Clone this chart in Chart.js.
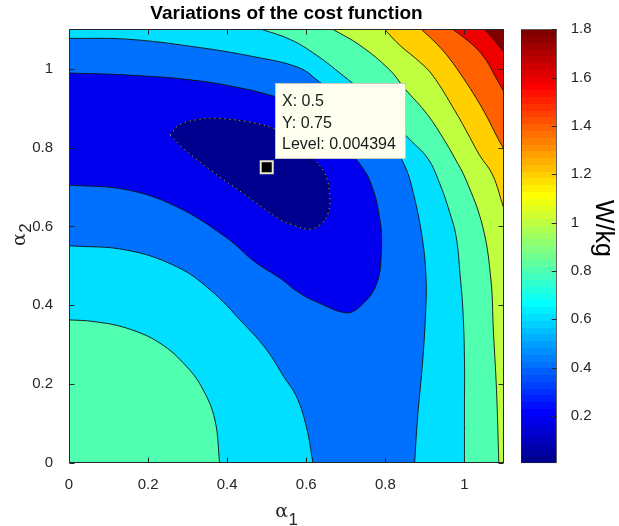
<!doctype html>
<html lang="en">
<head>
<meta charset="utf-8">
<title>Variations of the cost function</title>
<script src="https://cdn.jsdelivr.net/npm/chart.js@4.4.1/dist/chart.umd.min.js"></script>
<style>
  body { margin: 0; background: #fff; }
  #wrap { position: relative; width: 619px; height: 526px; }
  #main { position: absolute; left: 0; top: 0; }
  #cbar { position: absolute; left: 505px; top: 0; }
</style>
</head>
<body>
<div id="wrap">
  <canvas id="main" width="619" height="526"></canvas>
  <canvas id="cbar" width="114" height="526"></canvas>
</div>

<script>
// axis ticks
var xTicks = [0, 0.2, 0.4, 0.6, 0.8, 1];
var yTicks = [0, 0.2, 0.4, 0.6, 0.8, 1];
var cbTicks = [0.2, 0.4, 0.6, 0.8, 1, 1.2, 1.4, 1.6, 1.8];
var cMin = 0.004394, cMax = 1.8;
var title = 'Variations of the cost function';

// contour lines [alpha1, alpha2]
var c02 = [[0.255,0.832],[0.280,0.858],[0.331,0.872],[0.373,0.874],[0.448,0.866],[0.516,0.849],
  [0.571,0.819],[0.617,0.773],[0.646,0.736],[0.659,0.684],[0.655,0.633],[0.634,0.604],[0.609,0.593],
  [0.566,0.604],[0.533,0.618],[0.439,0.685],[0.356,0.744],[0.293,0.795],[0.255,0.832]];
var c04 = [[0,0.989],[0.146,0.984],[0.314,0.971],[0.440,0.950],[0.523,0.929],[0.583,0.912],[0.634,0.882],
  [0.684,0.832],[0.722,0.777],[0.760,0.718],[0.785,0.625],[0.790,0.540],[0.777,0.452],[0.735,0.396],
  [0.701,0.381],[0.634,0.405],[0.583,0.431],[0.533,0.469],[0.470,0.510],[0.396,0.573],[0.272,0.650],
  [0.146,0.693],[0,0.705]];
var c06a = [[0,1.077],[0.146,1.075],[0.314,1.056],[0.470,1.030],[0.583,1.002],[0.634,0.966],[0.697,0.921],
  [0.765,0.857],[0.823,0.794],[0.848,0.756],[0.869,0.692],[0.894,0.566],[0.903,0.464],[0.902,0.388],
  [0.895,0.267],[0.881,0.109],[0.874,0]];
var c06b = [[0,0.551],[0.146,0.540],[0.272,0.498],[0.356,0.440],[0.440,0.355],[0.499,0.288],[0.545,0.216],
  [0.575,0.169],[0.600,0.093],[0.617,0]];
var c08a = [[0.487,1.1],[0.56,1.074],[0.625,1.035],[0.69,0.985],[0.75,0.935],[0.805,0.88],[0.86,0.822],
  [0.907,0.773],[0.937,0.710],[0.962,0.638],[0.979,0.574],[0.989,0.477],[0.996,0.388],[1.0,0.266],
  [1.0,0.13],[1.0,0]];
var c08b = [[0,0.363],[0.061,0.359],[0.146,0.342],[0.230,0.304],[0.297,0.245],[0.339,0.186],[0.369,0.109],[0.381,0]];
var c10 = [[0.667,1.1],[0.735,1.060],[0.811,0.997],[0.848,0.951],[0.907,0.883],[0.949,0.819],[0.975,0.774],
  [1.004,0.718],[1.046,0.600],[1.067,0.464],[1.073,0.338],[1.081,0.186],[1.087,0]];
var c12 = [[0.798,1.1],[0.836,1.060],[0.886,1.018],[0.919,0.984],[0.975,0.895],[1.013,0.827],[1.038,0.781],
  [1.071,0.731],[1.1,0.644]];
var c14 = [[0.891,1.1],[0.93,1.063],[0.962,1.026],[0.998,0.975],[1.030,0.925],[1.058,0.876],[1.080,0.832],[1.1,0.795]];
var c16 = [[0.970,1.1],[1.0,1.078],[1.030,1.052],[1.056,1.02],[1.076,0.984],[1.1,0.941]];
var c18 = [[1.051,1.1],[1.076,1.072],[1.1,1.042]];

// data tip
var tipX = 0.5, tipY = 0.75, tipLevel = 0.004394;

var FONT = '"Liberation Sans", Arial, sans-serif';
Chart.defaults.font.family = FONT;

// matlab jet(64)
function jetIdx(i) {
  function ch(k) { if (k < 1 || k > 47) return 0; if (k <= 16) return k / 16; if (k <= 31) return 1; return (48 - k) / 16; }
  return 'rgb(' + Math.round(ch(i - 24) * 255) + ',' + Math.round(ch(i - 8) * 255) + ',' + Math.round(ch(i + 8) * 255) + ')';
}
function jet(v) {
  var i = Math.floor((v - cMin) / (cMax - cMin) * 64) + 1;
  return jetIdx(Math.max(1, Math.min(64, i)));
}

// push the open ends of a contour just outside the axes
function ext(p, q, d) {
  var dx = p[0] - q[0], dy = p[1] - q[1], n = Math.hypot(dx, dy);
  return [p[0] + dx / n * d, p[1] + dy / n * d];
}
function open(c) {
  return [ext(c[0], c[1], 0.05)].concat(c, [ext(c[c.length - 1], c[c.length - 2], 0.05)]);
}
function rev(c) { return c.slice().reverse(); }
var LO = -0.1, HI = 1.2;

// regions below each level, filled with the colour of the band under the level
var regions = [
  {v: cMin, pts: c02},
  {v: 0.2, pts: open(c04)},
  {v: 0.4, pts: open(c06a).concat(open(rev(c06b)))},
  {v: 0.6, pts: [[LO, HI]].concat(open(c08a), open(rev(c08b)))},
  {v: 0.8, pts: [[LO, HI]].concat(open(c10), [[LO, LO]])},
  {v: 1.0, pts: [[LO, HI]].concat(open(c12), [[HI, LO], [LO, LO]])},
  {v: 1.2, pts: [[LO, HI]].concat(open(c14), [[HI, LO], [LO, LO]])},
  {v: 1.4, pts: [[LO, HI]].concat(open(c16), [[HI, LO], [LO, LO]])},
  {v: 1.6, pts: [[LO, HI]].concat(open(c18), [[HI, LO], [LO, LO]])},
  {v: 1.8, pts: [[LO, LO], [HI, LO], [HI, HI], [LO, HI]]}
];

function xy(p) { return {x: p[0], y: p[1]}; }

var datasets = regions.map(function (r, i) {
  var last = i === regions.length - 1;
  return {
    data: r.pts.map(xy),
    showLine: true,
    fill: 'shape',
    backgroundColor: jet(r.v),
    borderColor: '#111',
    borderWidth: last ? 0 : 0.9,
    pointRadius: 0,
    tension: last ? 0 : 0.4,
    clip: 0,
    order: i + 3
  };
});
// selected contour highlight
datasets.push({
  data: c02.map(xy), showLine: true, fill: false, borderColor: 'rgba(235,235,235,0.7)',
  borderWidth: 1, borderDash: [1, 4], pointRadius: 0, tension: 0.4, clip: 0, order: 2
});
// data tip marker
datasets.push({
  data: [{x: tipX, y: tipY}], showLine: false, pointStyle: 'rect', pointRadius: 8.5,
  pointBackgroundColor: '#000', pointBorderColor: '#ECE8CC', pointBorderWidth: 2, clip: false, order: 0
});

function fmt(v) { return String(+(+v).toFixed(2)); }

var frame = {
  id: 'frame',
  afterDatasetsDraw: function (chart) {
    var c = chart.ctx, a = chart.chartArea, sx = chart.scales.x, sy = chart.scales.y;
    var l = Math.round(a.left) + 0.5, r = Math.round(a.right) - 0.5, t = Math.round(a.top) + 0.5, b = Math.round(a.bottom) - 0.5;
    c.save();
    c.strokeStyle = '#262626';
    c.lineWidth = 1;
    c.strokeRect(l, t, r - l, b - t);
    c.beginPath();
    xTicks.forEach(function (v) {
      var p = Math.round(sx.getPixelForValue(v)) + 0.5;
      c.moveTo(p, b); c.lineTo(p, b - 5);
      c.moveTo(p, t); c.lineTo(p, t + 5);
    });
    yTicks.forEach(function (v) {
      var p = Math.round(sy.getPixelForValue(v)) + 0.5;
      c.moveTo(l, p); c.lineTo(l + 5, p);
      c.moveTo(r, p); c.lineTo(r - 5, p);
    });
    c.stroke();
    c.restore();
  },
  afterDraw: function (chart) {
    var c = chart.ctx, a = chart.chartArea, sx = chart.scales.x, sy = chart.scales.y;
    var cx = (a.left + a.right) / 2;
    c.save();
    // title over the axes
    c.fillStyle = '#000';
    c.font = 'bold 19px ' + FONT;
    c.textAlign = 'center';
    c.textBaseline = 'alphabetic';
    c.fillText(title, cx, a.top - 10);

    // data tip box
    var px = sx.getPixelForValue(tipX), py = sy.getPixelForValue(tipY);
    var bx = Math.round(px + 8) + 0.5, by = Math.round(py - 84) + 0.5;
    c.fillStyle = '#FFFFF0';
    c.fillRect(bx, by, 130, 75);
    c.strokeStyle = '#C8C8C0';
    c.lineWidth = 1;
    c.strokeRect(bx, by, 130, 75);
    c.fillStyle = '#1a1a1a';
    c.font = '16px ' + FONT;
    c.textAlign = 'left';
    var lines = ['X: ' + tipX, 'Y: ' + tipY, 'Level: ' + tipLevel];
    lines.forEach(function (s, i) { c.fillText(s, bx + 6.5, by + 22.5 + i * 21.7); });

    // axis labels alpha_1, alpha_2
    c.fillStyle = '#262626';
    c.font = '19px "DejaVu Serif"';
    c.textAlign = 'right';
    c.fillText('α', cx + 1.5, a.bottom + 53.5);
    c.font = '17px ' + FONT;
    c.textAlign = 'left';
    c.fillText('1', cx + 2, a.bottom + 61.5);

    var cy = (a.top + a.bottom) / 2;
    c.translate(a.left - 44, cy - 13);
    c.rotate(-Math.PI / 2);
    c.font = '19px "DejaVu Serif"';
    c.textAlign = 'right';
    c.fillText('α', 0, 0);
    c.font = '17px ' + FONT;
    c.textAlign = 'left';
    c.fillText('2', 0.5, 6);
    c.restore();
  }
};

new Chart(document.getElementById('main'), {
  type: 'scatter',
  data: {datasets: datasets},
  options: {
    responsive: false,
    animation: false,
    events: [],
    layout: {padding: {left: 0, right: 115, top: 29.3, bottom: 0}},
    plugins: {
      legend: {display: false},
      tooltip: {enabled: false},
      title: {display: false}
    },
    elements: {line: {capBezierPoints: false}},
    scales: {
      x: {
        type: 'linear', min: 0, max: 1.1,
        afterBuildTicks: function (s) { s.ticks = xTicks.map(function (v) { return {value: v}; }); },
        afterFit: function (s) { s.height = 63; },
        grid: {display: false},
        border: {display: false},
        ticks: {color: '#262626', font: {size: 15}, padding: 5, maxRotation: 0, autoSkip: false, callback: fmt}
      },
      y: {
        type: 'linear', min: 0, max: 1.1,
        afterBuildTicks: function (s) { s.ticks = yTicks.map(function (v) { return {value: v}; }); },
        afterFit: function (s) { s.width = 69; },
        grid: {display: false},
        border: {display: false},
        ticks: {color: '#262626', font: {size: 15}, padding: 8, autoSkip: false, callback: fmt}
      }
    }
  },
  plugins: [frame]
});

// colour bar
function jetGradient(ctx) {
  var chart = ctx.chart, a = chart.chartArea;
  if (!a) return null;
  var g = chart.ctx.createLinearGradient(0, a.bottom, 0, a.top);
  for (var i = 0; i < 64; i++) {
    var col = jetIdx(i + 1);
    g.addColorStop(i / 64, col);
    g.addColorStop((i + 1) / 64, col);
  }
  return g;
}

var cbDecor = {
  id: 'cbDecor',
  afterDatasetsDraw: function (chart) {
    var c = chart.ctx, a = chart.chartArea, s = chart.scales.y;
    c.save();
    c.strokeStyle = '#262626';
    c.lineWidth = 1;
    c.beginPath();
    cbTicks.forEach(function (v) {
      var p = Math.round(s.getPixelForValue(v)) + 0.5;
      c.moveTo(a.right, p); c.lineTo(a.right - 5, p);
    });
    c.stroke();
    c.fillStyle = '#000';
    c.font = '25px ' + FONT;
    c.textAlign = 'center';
    c.textBaseline = 'alphabetic';
    c.translate(a.right + 39.5, (a.top + a.bottom) / 2 - 17.7);
    c.rotate(Math.PI / 2);
    c.fillText('W/kg', 0, 0);
    c.restore();
  }
};

new Chart(document.getElementById('cbar'), {
  type: 'bar',
  data: {
    labels: ['W/kg'],
    datasets: [{
      data: [[cMin, cMax]],
      backgroundColor: jetGradient,
      borderColor: '#262626',
      borderWidth: 1,
      borderSkipped: false,
      barPercentage: 1,
      categoryPercentage: 1
    }]
  },
  options: {
    responsive: false,
    animation: false,
    events: [],
    layout: {padding: {left: 16, top: 29.3, bottom: 62.8, right: 0}},
    plugins: {legend: {display: false}, tooltip: {enabled: false}},
    scales: {
      x: {display: false},
      y: {
        position: 'right', min: cMin, max: cMax,
        afterBuildTicks: function (s) { s.ticks = cbTicks.map(function (v) { return {value: v}; }); },
        afterFit: function (s) { s.width = 62.3; },
        grid: {display: false},
        border: {display: false},
        ticks: {color: '#262626', font: {size: 15}, padding: 6, autoSkip: false, callback: fmt}
      }
    }
  },
  plugins: [cbDecor]
});
</script>
</body>
</html>
